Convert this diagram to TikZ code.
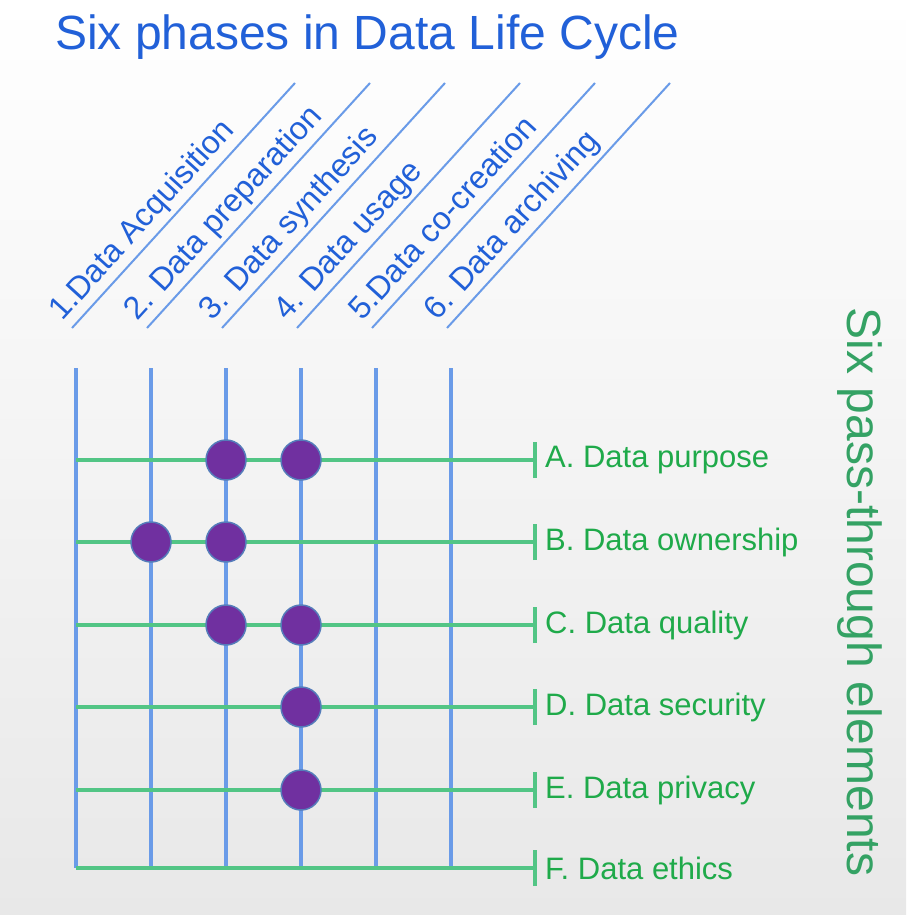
\documentclass[tikz,border=0pt]{standalone}
\usepackage{fontspec}
\setmainfont{Liberation Sans}
\usetikzlibrary{positioning}
\definecolor{phaseblue}{HTML}{6A9BE8}
\definecolor{titleblue}{HTML}{2160D8}
\definecolor{elemgreen}{HTML}{52C585}
\definecolor{textgreen}{HTML}{1FAA4A}
\definecolor{sidegreen}{HTML}{34A264}
\definecolor{dotpurple}{HTML}{7030A0}
\tikzset{
  phase/.style={phaseblue,line width=3.8pt},
  elem/.style={elemgreen,line width=3.8pt},
  dot/.style={circle,fill=dotpurple,draw=phaseblue!80!black,line width=1.5pt,minimum size=40pt,inner sep=0pt},
  phaselabel/.style={titleblue,font=\fontsize{32}{32}\selectfont,rotate=47.7,anchor=base west,inner sep=0pt},
  elemlabel/.style={textgreen,font=\fontsize{31}{31}\selectfont,anchor=west,inner sep=0pt}
}
\begin{document}
\begin{tikzpicture}[x=1pt,y=-1pt]
    \shade[top color=white,bottom color=gray!18] (0,0) rectangle (906,915);
    \useasboundingbox (0,0) rectangle (906,915);
    \node[titleblue,font=\fontsize{48}{48}\selectfont,anchor=west,inner sep=0pt] (title) at (55,37) {Six phases in Data Life Cycle};
    % phases: vertical lines and slanted labels
    \foreach \i/\txt in {0/1.Data Acquisition,1/2. Data preparation,2/3. Data synthesis,3/4. Data usage,4/5.Data co-creation,5/6. Data archiving} {
        \coordinate (p\i top) at (76+75*\i,368);
        \coordinate (p\i bot) at (76+75*\i,868);
        \draw[phase] (p\i top) -- (p\i bot);
        \coordinate (d\i a) at (72+75*\i,328);
        \coordinate (d\i b) at (295+75*\i,83);
        \draw[phase,line width=2pt] (d\i a) -- (d\i b);
        \node[phaselabel] (lab\i) at (62+75*\i,322) {\txt};
    }
    % elements: horizontal lines with end ticks
    \foreach \j/\txt [count=\k from 0] in {460/A. Data purpose,542/B. Data ownership,625/C. Data quality,707/D. Data security,790/E. Data privacy,868/F. Data ethics} {
        \coordinate (e\k) at (76,\j);
        \coordinate (t\k) at (535,\j);
        \draw[elem] (e\k) -- (t\k);
        \draw[elem] ([yshift=-18pt]t\k) -- ([yshift=18pt]t\k);
        \node[elemlabel] (el\k) at (545,\j) {\txt};
    }
    \node[sidegreen,font=\fontsize{48}{48}\selectfont,rotate=-90,inner sep=0pt] (side) at (860,592) {Six pass-through elements};
    % pass-through marks
    \foreach \i/\k in {2/0,3/0,1/1,2/1,2/2,3/2,3/3,3/4}
        \node[dot] at (p\i top |- e\k) {};
\end{tikzpicture}
\end{document}
